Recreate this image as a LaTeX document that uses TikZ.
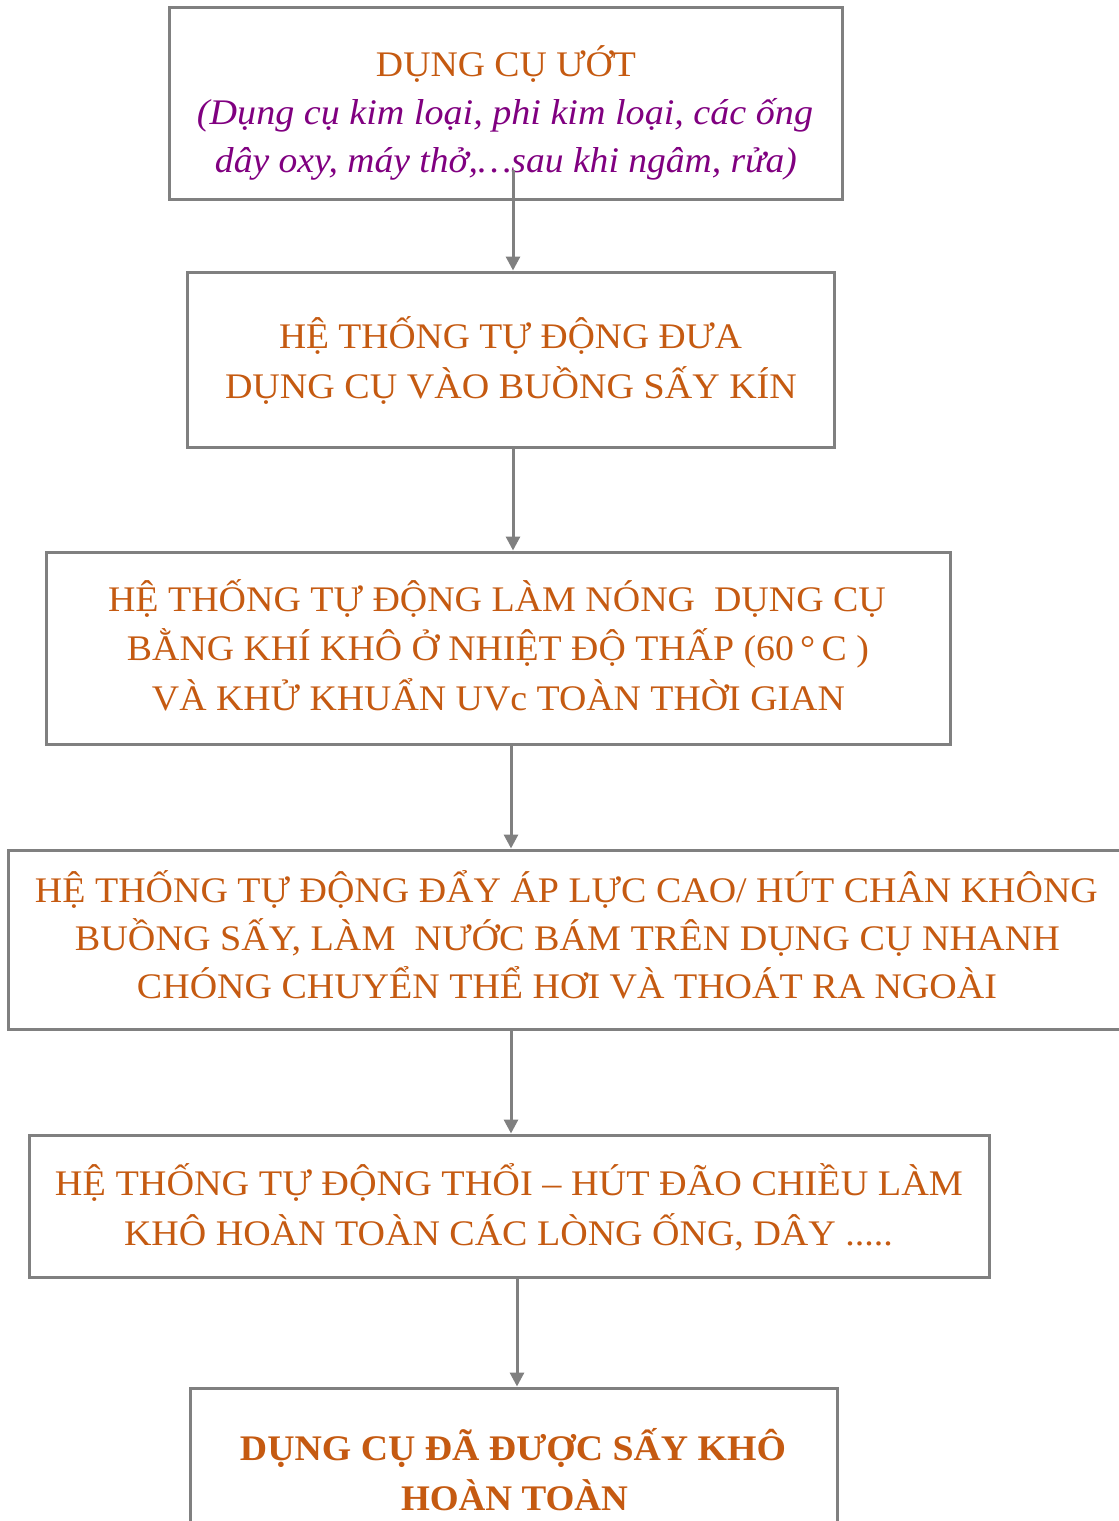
\documentclass[tikz,border=0pt]{standalone}
\usepackage{fontspec}
\setmainfont{Liberation Serif}
\usepackage{graphicx}
\usetikzlibrary{arrows.meta,fit}
\definecolor{boxgray}{HTML}{808080}
\definecolor{txtorange}{HTML}{C55A11}
\definecolor{txtpurple}{HTML}{800080}
\newdimen\pxu \pxu=0.5pt
\newcommand\fw[2]{\resizebox{#1\pxu}{\height}{#2}}
\begin{document}
\begin{tikzpicture}[x=0.5pt,y=-0.5pt,
  box/.style={draw=boxgray,line width=1.5pt,inner sep=0pt,rectangle},
  ln/.style={anchor=base,inner sep=0pt,text=txtorange,font=\fontsize{18}{20}\selectfont},
  lnit/.style={ln,text=txtpurple,font=\fontsize{18}{20}\selectfont\itshape},
  lnbf/.style={ln,font=\fontsize{18}{20}\selectfont\bfseries},
  arr/.style={draw=boxgray,line width=1.5pt,-{Triangle[width=7pt,length=7pt]}}]
\useasboundingbox (0,0) rectangle (1119,1521);
% boxes
\node[box,fit={(169,7) (842,199)}] (b1) {};
\node[box,fit={(187,272) (834,447)}] (b2) {};
\node[box,fit={(46,552) (950,744)}] (b3) {};
\node[box,fit={(8,850) (1135,1029)}] (b4) {};
\node[box,fit={(29,1135) (989,1277)}] (b5) {};
\node[box,fit={(190,1388) (837,1545)}] (b6) {};
% texts
\node[ln] (t1a) at (506,76) {\fw{260}{DỤNG CỤ ƯỚT}};
\node[lnit] (t1b) at (505,124) {\fw{616}{(Dụng cụ kim loại, phi kim loại, các ống}};
\node[lnit] (t1c) at (506,172) {\fw{582}{dây oxy, máy thở,…sau khi ngâm, rửa)}};
\node[ln] (t2a) at (510.5,348) {\fw{463}{HỆ THỐNG TỰ ĐỘNG ĐƯA}};
\node[ln] (t2b) at (511,398) {\fw{572}{DỤNG CỤ VÀO BUỒNG SẤY KÍN}};
\node[ln] (t3a) at (497,611) {\fw{778}{HỆ THỐNG TỰ ĐỘNG LÀM NÓNG\ \ DỤNG CỤ}};
\node[ln] (t3b) at (498,660) {\fw{742}{BẰNG KHÍ KHÔ Ở NHIỆT ĐỘ THẤP (60\,°\,C )}};
\node[ln] (t3c) at (498.5,710) {\fw{693}{VÀ KHỬ KHUẨN UVc TOÀN THỜI GIAN}};
\node[ln] (t4a) at (566.5,902) {\fw{1063}{HỆ THỐNG TỰ ĐỘNG ĐẨY ÁP LỰC CAO/ HÚT CHÂN KHÔNG}};
\node[ln] (t4b) at (567.5,950) {\fw{985}{BUỒNG SẤY, LÀM\ \ NƯỚC BÁM TRÊN DỤNG CỤ NHANH}};
\node[ln] (t4c) at (567,998) {\fw{860}{CHÓNG CHUYỂN THỂ HƠI VÀ THOÁT RA NGOÀI}};
\node[ln] (t5a) at (509,1195) {\fw{908}{HỆ THỐNG TỰ ĐỘNG THỔI – HÚT ĐÃO CHIỀU LÀM}};
\node[ln] (t5b) at (508.5,1245) {\fw{769}{KHÔ HOÀN TOÀN CÁC LÒNG ỐNG, DÂY .....}};
\node[lnbf] (t6a) at (513,1460) {\fw{546}{DỤNG CỤ ĐÃ ĐƯỢC SẤY KHÔ}};
\node[lnbf] (t6b) at (514.5,1510) {\fw{227}{HOÀN TOÀN}};
% connectors
\coordinate (s1) at (513,170);
\coordinate (x2) at (513,0);
\coordinate (x3) at (511,0);
\coordinate (x4) at (511,0);
\coordinate (x5) at (517,0);
\draw[arr] (s1) -- (s1 |- b2.north);
\draw[arr] (b2.south -| x2) -- (b3.north -| x2);
\draw[arr] (b3.south -| x3) -- (b4.north -| x3);
\draw[arr] (b4.south -| x4) -- (b5.north -| x4);
\draw[arr] (b5.south -| x5) -- (b6.north -| x5);
\end{tikzpicture}
\end{document}
